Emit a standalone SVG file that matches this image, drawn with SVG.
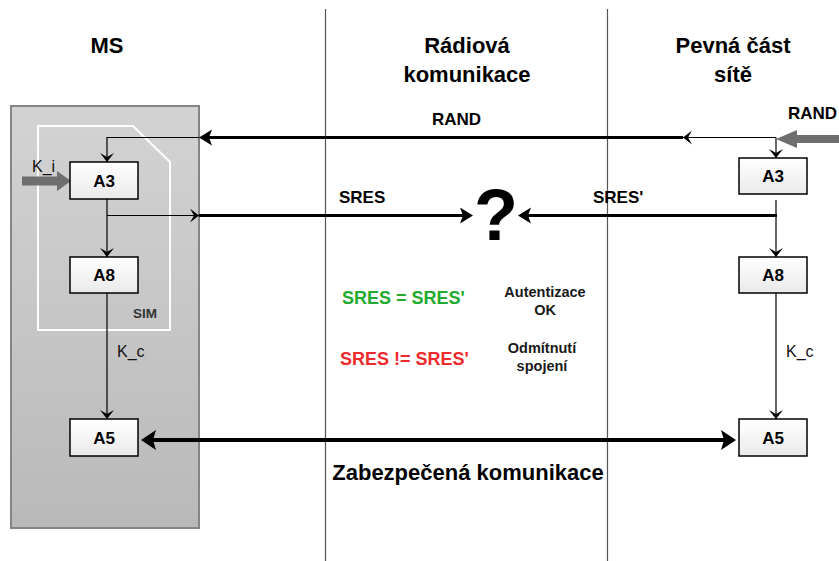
<svg xmlns="http://www.w3.org/2000/svg" width="839" height="561" viewBox="0 0 839 561">
<style>
.hdr{font-family:"Liberation Sans",Arial,sans-serif;font-weight:bold;font-size:22px;fill:#000;text-anchor:middle}
.box{fill:url(#boxg);stroke:#000;stroke-width:1.5}
.bl{font-family:"Liberation Sans",Arial,sans-serif;font-weight:bold;font-size:17px;fill:#000;text-anchor:middle}
.lbl{font-family:"Liberation Sans",Arial,sans-serif;font-weight:bold;font-size:17px;fill:#000}
.kl{font-family:"Liberation Sans",Arial,sans-serif;font-size:16px;fill:#111}
.note{font-family:"Liberation Sans",Arial,sans-serif;font-weight:bold;font-size:14.5px;fill:#1a1a1a;text-anchor:middle}
.cmp{font-family:"Liberation Sans",Arial,sans-serif;font-weight:bold;font-size:18px}
.thin{fill:none;stroke:#000;stroke-width:1.2}
.thick{fill:none;stroke:#000;stroke-width:3}
.sep{stroke:#555;stroke-width:1.2}
.grey{fill:#6e6e6e}
</style>
<defs>
<linearGradient id="msg" x1="0" y1="0" x2="0" y2="1">
<stop offset="0" stop-color="#d3d3d3"/>
<stop offset="1" stop-color="#b9b9b9"/>
</linearGradient>
<linearGradient id="boxg" x1="0" y1="0" x2="0" y2="1">
<stop offset="0" stop-color="#ffffff"/>
<stop offset="1" stop-color="#eaeaea"/>
</linearGradient>
<marker id="hd" markerUnits="userSpaceOnUse" markerWidth="16" markerHeight="18" refX="5" refY="8" orient="auto">
<path d="M0,0 L13,8 L0,16 L3,8 Z" fill="#000"/>
</marker>
<marker id="hdL" markerUnits="userSpaceOnUse" markerWidth="18" markerHeight="22" refX="6" refY="10" orient="auto-start-reverse">
<path d="M0,0 L15,10 L0,20 L3,10 Z" fill="#000"/>
</marker>
<marker id="ch" markerUnits="userSpaceOnUse" markerWidth="12" markerHeight="16" refX="9" refY="7" orient="auto">
<path d="M0,0 L9,7 L0,14 L4,7 Z" fill="#000"/>
</marker>
</defs>

<rect x="0" y="0" width="839" height="561" fill="#fff"/>

<g id="separators">
<line class="sep" x1="325.5" y1="9" x2="325.5" y2="561"/>
<line class="sep" x1="607.5" y1="9" x2="607.5" y2="561"/>
</g>

<g id="headers">
<text class="hdr" x="107" y="53">MS</text>
<text class="hdr" x="467" y="53">Rádiová</text>
<text class="hdr" x="467" y="82">komunikace</text>
<text class="hdr" x="733" y="53">Pevná část</text>
<text class="hdr" x="733" y="82">sítě</text>
</g>

<g id="ms">
<rect x="11" y="106" width="188" height="422" fill="url(#msg)" stroke="#858585" stroke-width="2"/>
</g>

<g id="sim">
<polygon points="38,126 133,126 170,162 170,330 38,330" fill="none" stroke="#fff" stroke-width="2"/>
<text x="133" y="318" font-family="Liberation Sans, Arial, sans-serif" font-weight="bold" font-size="13.5" fill="#333">SIM</text>
</g>

<g id="connectors">
<path class="thin" d="M199,137.5 H107 V162" marker-end="url(#ch)"/>
<path class="thick" d="M683,137.5 H207" marker-end="url(#hd)"/>
<path class="thin" d="M776,137.5 H683" marker-end="url(#ch)"/>
<path class="thin" d="M776,137.5 V158" marker-end="url(#ch)"/>
<path class="thin" d="M107,199 V257" marker-end="url(#ch)"/>
<path class="thin" d="M107,215.5 H199" marker-end="url(#ch)"/>
<path class="thick" d="M199,215.5 H465" marker-end="url(#hd)"/>
<path class="thin" d="M776,200 V257" marker-end="url(#ch)"/>
<path class="thick" d="M777,215.5 H526" marker-end="url(#hd)"/>
<path class="thin" d="M107,293 V419" marker-end="url(#ch)"/>
<path class="thin" d="M776,293 V419" marker-end="url(#ch)"/>
<path d="M150,440 H727" fill="none" stroke="#000" stroke-width="4" marker-start="url(#hdL)" marker-end="url(#hdL)"/>
<polygon class="grey" points="22,176.5 57,176.5 57,171 71,181 57,191 57,185.5 22,185.5"/>
<polygon class="grey" points="839,135 797,135 797,130 776,139 797,148 797,143 839,143"/>
</g>

<g id="ms-a3"><rect class="box" x="70" y="162" width="68" height="37"/><text class="bl" x="104" y="186.5">A3</text></g>
<g id="ms-a8"><rect class="box" x="70" y="257" width="68" height="36"/><text class="bl" x="104" y="281">A8</text></g>
<g id="ms-a5"><rect class="box" x="70" y="419" width="68" height="37"/><text class="bl" x="104" y="443.5">A5</text></g>
<g id="net-a3"><rect class="box" x="739" y="158" width="68" height="36"/><text class="bl" x="773" y="182">A3</text></g>
<g id="net-a8"><rect class="box" x="739" y="257" width="68" height="36"/><text class="bl" x="773" y="281">A8</text></g>
<g id="net-a5"><rect class="box" x="739" y="419" width="68" height="37"/><text class="bl" x="773" y="443.5">A5</text></g>

<g id="labels">
<text class="kl" x="32" y="172">K_i</text>
<text class="kl" x="117" y="357">K_c</text>
<text class="kl" x="786" y="357">K_c</text>
<text class="lbl" x="432" y="125">RAND</text>
<text class="lbl" x="788" y="119">RAND</text>
<text class="lbl" x="339" y="203">SRES</text>
<text class="lbl" x="593" y="203">SRES'</text>
<text x="496" y="240" font-family="Liberation Sans, Arial, sans-serif" font-weight="bold" font-size="72" text-anchor="middle" fill="#000">?</text>
<text class="cmp" x="342" y="303.5" fill="#22ab2e">SRES = SRES'</text>
<text class="cmp" x="340" y="365" fill="#ee2b2e">SRES != SRES'</text>
<text class="note" x="545" y="297">Autentizace</text>
<text class="note" x="545" y="315">OK</text>
<text class="note" x="542" y="353">Odmítnutí</text>
<text class="note" x="542" y="370.5">spojení</text>
<text class="hdr" x="468" y="480">Zabezpečená komunikace</text>
</g>
</svg>
